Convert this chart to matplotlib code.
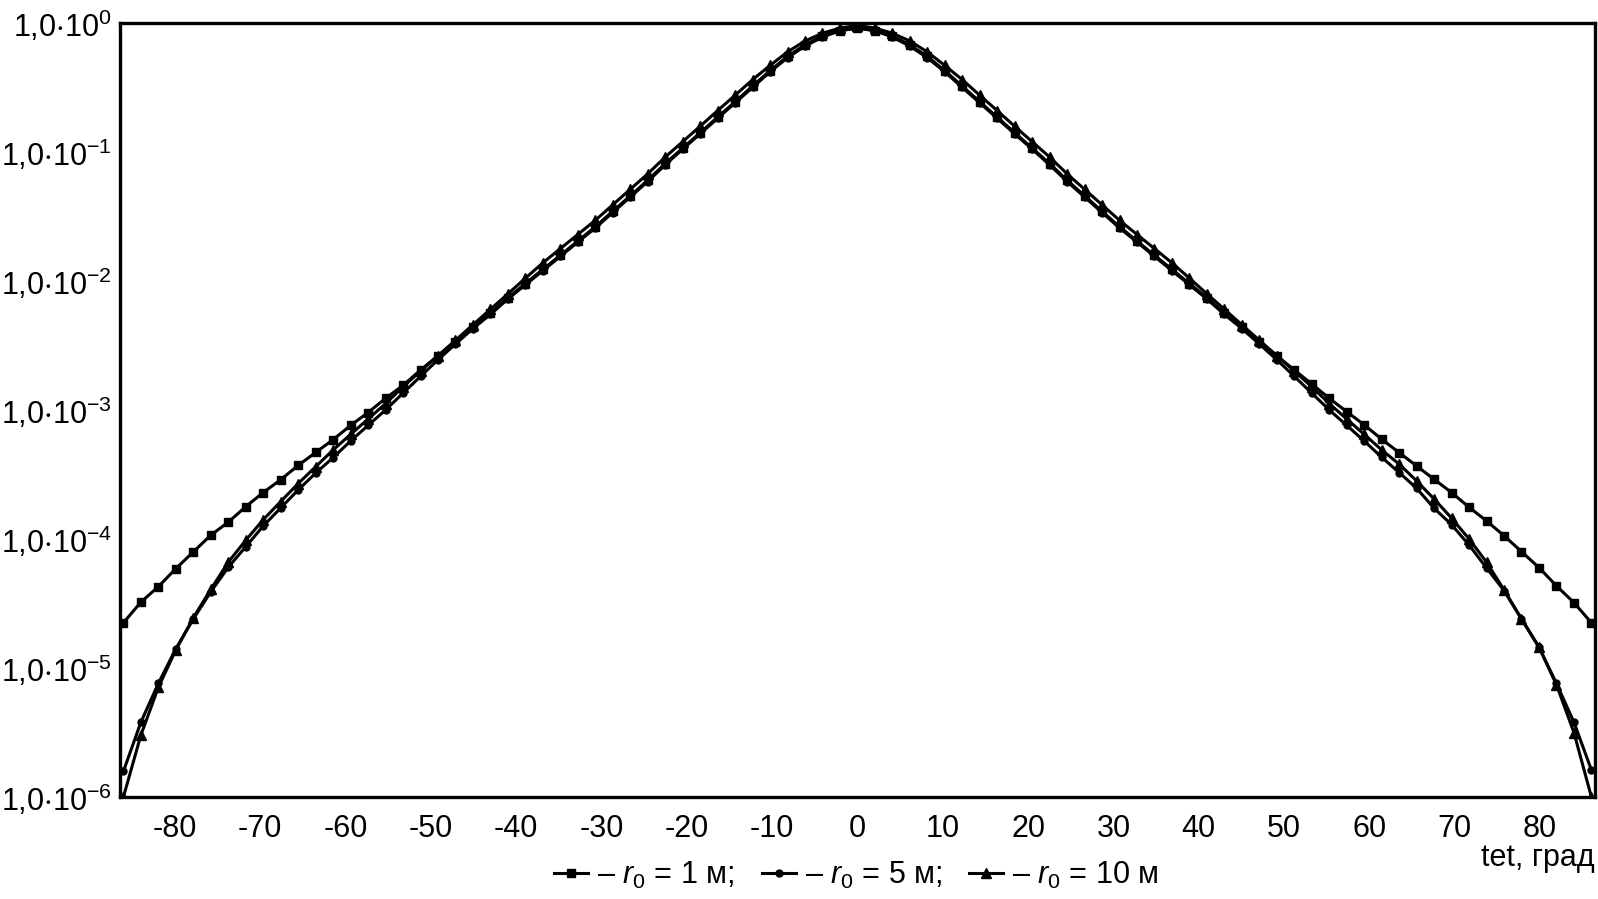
import numpy as np
import matplotlib
matplotlib.use("Agg")
import matplotlib.pyplot as plt

plt.rcParams["font.family"] = ["Liberation Sans", "DejaVu Sans"]
plt.rcParams["mathtext.fontset"] = "custom"
plt.rcParams["mathtext.rm"] = "Liberation Sans"
plt.rcParams["mathtext.it"] = "Liberation Sans:italic"

# angle grid of the calculation, deg (85 points, -86 .. 86)
tet = np.linspace(-86, 86, 85)

# r0 = 1 m
r0_1 = [
    2.24e-5, 3.24e-5, 4.27e-5, 5.89e-5, 7.94e-5, 1.07e-4, 1.35e-4, 1.78e-4, 2.29e-4, 2.88e-4,
    3.72e-4, 4.68e-4, 5.89e-4, 7.59e-4, 9.55e-4, 1.23e-3, 1.55e-3, 2.04e-3, 2.63e-3, 3.39e-3,
    4.37e-3, 5.62e-3, 7.41e-3, 9.55e-3, 1.23e-2, 1.58e-2, 2.04e-2, 2.63e-2, 3.47e-2, 4.57e-2,
    6.03e-2, 8.13e-2, 1.07e-1, 1.41e-1, 1.86e-1, 2.45e-1, 3.24e-1, 4.27e-1, 5.50e-1, 6.76e-1,
    7.94e-1, 8.71e-1, 9.12e-1,
    8.71e-1, 7.94e-1, 6.76e-1, 5.50e-1, 4.27e-1, 3.24e-1, 2.45e-1, 1.86e-1, 1.41e-1, 1.07e-1,
    8.13e-2, 6.03e-2, 4.57e-2, 3.47e-2, 2.63e-2, 2.04e-2, 1.58e-2, 1.23e-2, 9.55e-3, 7.41e-3,
    5.62e-3, 4.37e-3, 3.39e-3, 2.63e-3, 2.04e-3, 1.59e-3, 1.23e-3, 9.70e-4, 7.66e-4, 5.93e-4,
    4.67e-4, 3.68e-4, 2.90e-4, 2.29e-4, 1.76e-4, 1.38e-4, 1.06e-4, 7.98e-5, 6.00e-5, 4.33e-5,
    3.21e-5, 2.24e-5,
]

# r0 = 5 m
r0_5 = [
    1.58e-6, 3.80e-6, 7.59e-6, 1.41e-5, 2.40e-5, 3.89e-5, 6.03e-5, 8.71e-5, 1.26e-4, 1.74e-4,
    2.40e-4, 3.24e-4, 4.27e-4, 5.75e-4, 7.59e-4, 1.00e-3, 1.35e-3, 1.82e-3, 2.45e-3, 3.24e-3,
    4.27e-3, 5.50e-3, 7.24e-3, 9.33e-3, 1.20e-2, 1.55e-2, 2.00e-2, 2.57e-2, 3.39e-2, 4.47e-2,
    5.89e-2, 7.94e-2, 1.05e-1, 1.38e-1, 1.82e-1, 2.40e-1, 3.16e-1, 4.17e-1, 5.37e-1, 6.61e-1,
    7.76e-1, 8.71e-1, 9.12e-1,
    8.71e-1, 7.76e-1, 6.61e-1, 5.37e-1, 4.17e-1, 3.16e-1, 2.40e-1, 1.82e-1, 1.38e-1, 1.05e-1,
    7.94e-2, 5.89e-2, 4.47e-2, 3.39e-2, 2.57e-2, 2.00e-2, 1.55e-2, 1.20e-2, 9.33e-3, 7.24e-3,
    5.50e-3, 4.27e-3, 3.24e-3, 2.45e-3, 1.82e-3, 1.35e-3, 1.00e-3, 7.59e-4, 5.75e-4, 4.30e-4,
    3.27e-4, 2.47e-4, 1.73e-4, 1.29e-4, 8.97e-5, 5.96e-5, 3.98e-5, 2.40e-5, 1.45e-5, 7.59e-6,
    3.80e-6, 1.62e-6,
]

# r0 = 10 m
r0_10 = [
    1.00e-6, 3.02e-6, 7.08e-6, 1.38e-5, 2.45e-5, 4.07e-5, 6.61e-5, 9.77e-5, 1.41e-4, 1.95e-4,
    2.69e-4, 3.63e-4, 4.90e-4, 6.46e-4, 8.51e-4, 1.12e-3, 1.51e-3, 2.00e-3, 2.63e-3, 3.47e-3,
    4.57e-3, 6.03e-3, 7.94e-3, 1.05e-2, 1.38e-2, 1.78e-2, 2.29e-2, 2.95e-2, 3.89e-2, 5.13e-2,
    6.76e-2, 9.12e-2, 1.20e-1, 1.58e-1, 2.09e-1, 2.75e-1, 3.63e-1, 4.68e-1, 5.96e-1, 7.24e-1,
    8.32e-1, 9.12e-1, 9.55e-1,
    9.12e-1, 8.32e-1, 7.24e-1, 5.96e-1, 4.68e-1, 3.63e-1, 2.75e-1, 2.09e-1, 1.58e-1, 1.20e-1,
    9.12e-2, 6.76e-2, 5.13e-2, 3.89e-2, 2.95e-2, 2.29e-2, 1.78e-2, 1.38e-2, 1.05e-2, 7.94e-3,
    6.03e-3, 4.57e-3, 3.47e-3, 2.63e-3, 2.00e-3, 1.51e-3, 1.12e-3, 8.51e-4, 6.46e-4, 4.90e-4,
    3.80e-4, 2.82e-4, 2.04e-4, 1.45e-4, 1.00e-4, 6.61e-5, 4.03e-5, 2.40e-5, 1.45e-5, 7.41e-6,
    3.16e-6, 1.00e-6,
]

series = [
    (r0_1, "s", 5.5, "– $r_0$ = 1 м;"),
    (r0_5, "o", 5.0, "– $r_0$ = 5 м;"),
    (r0_10, "^", 6.5, "– $r_0$ = 10 м"),
]

y_ticks = [1e-6, 1e-5, 1e-4, 1e-3, 1e-2, 1e-1, 1e0]
y_tick_labels = [r"$\mathregular{1{,}0{\cdot}10^{%d}}$" % p for p in range(-6, 1)]
x_ticks = [-80, -70, -60, -50, -40, -30, -20, -10, 0, 10, 20, 30, 40, 50, 60, 70, 80]

fig = plt.figure(figsize=(15.98, 8.99), dpi=100)
ax = fig.add_axes([0.0751, 0.1135, 0.9229, 0.861])

for vals, mk, ms, lab in series:
    ax.plot(tet, vals, color="black", linewidth=2.2, marker=mk, markersize=ms,
            markerfacecolor="black", markeredgecolor="black", label=lab)

ax.set_yscale("log")
ax.set_ylim(1e-6, 1.0)
ax.set_xlim(-86.4, 86.4)
ax.set_yticks(y_ticks)
ax.set_yticklabels(y_tick_labels)
ax.yaxis.set_minor_locator(matplotlib.ticker.NullLocator())
ax.set_xticks(x_ticks)
ax.set_xticklabels([str(v) for v in x_ticks])
ax.tick_params(axis="both", length=0, labelsize=22)
ax.tick_params(axis="y", pad=6)
ax.tick_params(axis="x", pad=12)
for sp in ax.spines.values():
    sp.set_linewidth(2.4)

fig.text(0.998, 0.046, "tet, град", ha="right", va="center", fontsize=22)

fig.legend(loc="center", bbox_to_anchor=(0.536, 0.026), ncol=3, frameon=False,
           fontsize=22, handlelength=1.1, handletextpad=0.3, columnspacing=0.9,
           borderaxespad=0)

fig.savefig("out.png", dpi=100)
